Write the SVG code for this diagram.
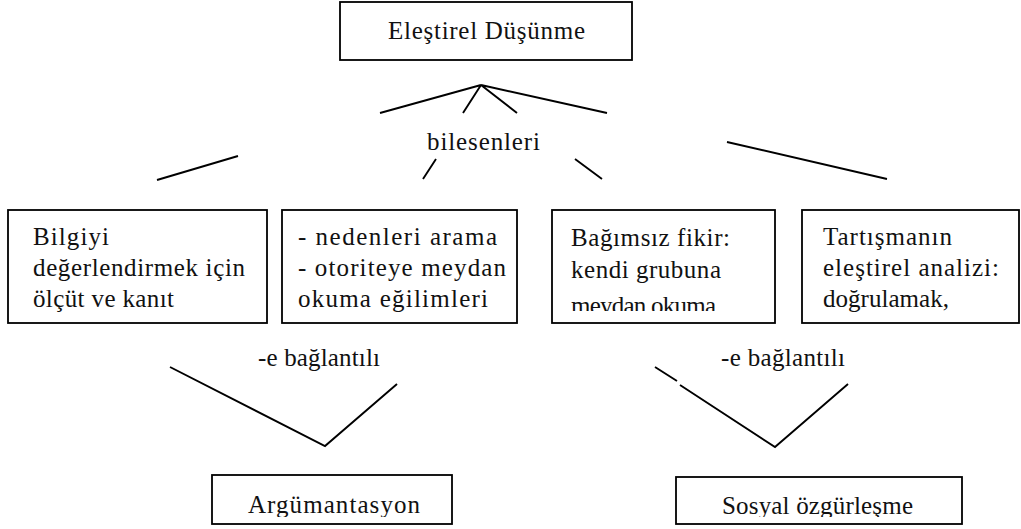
<svg xmlns="http://www.w3.org/2000/svg" width="1021" height="529" viewBox="0 0 1021 529">
<style>
.box{fill:#fff;stroke:#000;stroke-width:1.8}
.t{font-family:"Liberation Serif","Times New Roman",serif;font-size:25px;fill:#111}
.c{stroke:#000;stroke-width:1.9;fill:none;stroke-linecap:butt}
</style>
<defs>
<clipPath id="cb1"><rect x="8" y="210" width="260" height="103"/></clipPath>
<clipPath id="cb2"><rect x="282" y="210" width="236" height="103"/></clipPath>
<clipPath id="cb3"><rect x="552" y="210" width="224" height="101"/></clipPath>
<clipPath id="cb4"><rect x="802" y="210" width="218" height="103"/></clipPath>
<clipPath id="cb5"><rect x="212" y="475" width="241" height="42"/></clipPath>
<clipPath id="cb6"><rect x="676" y="477" width="287" height="40"/></clipPath>
</defs>
<rect width="1021" height="529" fill="#fff"/>
<g id="connectors">
<path class="c" d="M481,85 L380,113 M481,85 L463,113 M481,85 L517,113 M481,85 L607,113"/>
<path class="c" d="M157,180 L238,156 M423,179 L436,159 M575,159 L602,179 M727,142 L887,179"/>
<path class="c" d="M170,367 L325,446 L397,384"/>
<path class="c" d="M655,367 L677,381 M680,385 L775,447 L848,384"/>
</g>
<g id="n-elestirel">
<rect class="box" x="340" y="2" width="292" height="58"/>
<text class="t" x="388" y="39" textLength="197">Eleştirel Düşünme</text>
</g>
<g id="l-bilesenleri">
<text class="t" x="427" y="150" textLength="113">bilesenleri</text>
</g>
<g id="n-bilgiyi">
<rect class="box" x="8" y="210" width="259" height="113"/>
<g clip-path="url(#cb1)">
<text class="t" x="33" y="245" textLength="76">Bilgiyi</text>
<text class="t" x="33" y="276" textLength="212">değerlendirmek için</text>
<text class="t" x="33" y="307" textLength="141">ölçüt ve kanıt</text>
</g>
</g>
<g id="n-nedenleri">
<rect class="box" x="282" y="210" width="235" height="113"/>
<g clip-path="url(#cb2)">
<text class="t" x="298" y="245" textLength="199">- nedenleri arama</text>
<text class="t" x="298" y="276" textLength="208">- otoriteye meydan</text>
<text class="t" x="298" y="307" textLength="190">okuma eğilimleri</text>
</g>
</g>
<g id="n-bagimsiz">
<rect class="box" x="552" y="210" width="223" height="113"/>
<g clip-path="url(#cb3)">
<text class="t" x="571" y="246" textLength="159">Bağımsız fikir:</text>
<text class="t" x="571" y="278" textLength="150">kendi grubuna</text>
<text class="t" x="571" y="314" textLength="145">meydan okuma</text>
</g>
</g>
<g id="n-tartisma">
<rect class="box" x="802" y="210" width="217" height="113"/>
<g clip-path="url(#cb4)">
<text class="t" x="823" y="245" textLength="129">Tartışmanın</text>
<text class="t" x="823" y="276" textLength="176">eleştirel analizi:</text>
<text class="t" x="823" y="307" textLength="126">doğrulamak,</text>
</g>
</g>
<g id="l-bag1">
<text class="t" x="258" y="366" textLength="122">-e bağlantılı</text>
</g>
<g id="l-bag2">
<text class="t" x="721" y="366" textLength="124">-e bağlantılı</text>
</g>
<g id="n-argumantasyon">
<rect class="box" x="212" y="475" width="240" height="49"/>
<g clip-path="url(#cb5)">
<text class="t" x="248" y="513" textLength="172">Argümantasyon</text>
</g>
</g>
<g id="n-sosyal">
<rect class="box" x="676" y="477" width="286" height="47"/>
<g clip-path="url(#cb6)">
<text class="t" x="722" y="514" textLength="191">Sosyal özgürleşme</text>
</g>
</g>
</svg>
